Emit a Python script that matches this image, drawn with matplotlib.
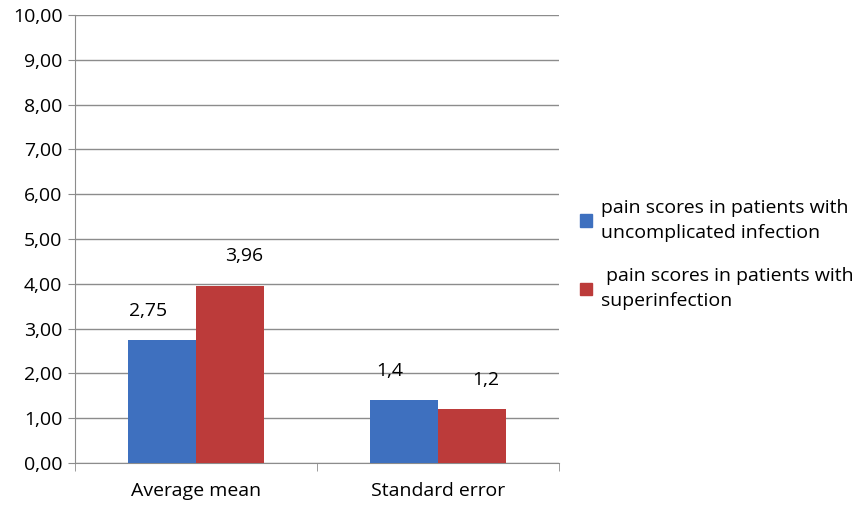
import matplotlib
matplotlib.use("Agg")
import matplotlib.pyplot as plt
from matplotlib.patches import Patch
import numpy as np

categories = ["Average mean", "Standard error"]
uncomplicated = [2.75, 1.4]
superinfection = [3.96, 1.2]
labels_unc = ["2,75", "1,4"]
labels_sup = ["3,96", "1,2"]
series_names = ["pain scores in patients with\nuncomplicated infection",
                " pain scores in patients with\nsuperinfection"]
yticks = np.arange(0, 11, 1)

plt.rcParams["font.family"] = "Open Sans"
fs = 14
fig = plt.figure(figsize=(8.67, 5.09), dpi=100)
ax = fig.add_axes([0.0865, 0.0904, 0.558, 0.880])
x = np.arange(len(categories))
w = 0.28
blue, red = "#3E70BF", "#BC3B3A"
b1 = ax.bar(x - w/2, uncomplicated, w, color=blue, zorder=3)
b2 = ax.bar(x + w/2, superinfection, w, color=red, zorder=3)
for rect, t in zip(b1, labels_unc):
    ax.text(rect.get_x() + rect.get_width()/2 - 0.06, rect.get_height() + 0.45, t,
            ha="center", va="bottom", fontsize=fs)
for rect, t in zip(b2, labels_sup):
    ax.text(rect.get_x() + rect.get_width()/2 + 0.06, rect.get_height() + 0.45, t,
            ha="center", va="bottom", fontsize=fs)

ax.set_xlim(-0.5, 1.5)
ax.set_ylim(0, 10)
ax.set_yticks(yticks)
ax.set_yticklabels([f"{v:.2f}".replace(".", ",") for v in yticks], fontsize=fs)
ax.yaxis.grid(True, color="#8C8C8C", linewidth=1, zorder=0)
ax.set_xticks(x)
ax.set_xticklabels(categories, fontsize=fs)
ax.tick_params(axis="x", length=0, pad=14)
ax.set_xticks([-0.5, 0.5, 1.5], minor=True)
ax.tick_params(axis="x", which="minor", length=6, color="#8C8C8C")
ax.tick_params(axis="y", length=5, color="#8C8C8C", pad=4)
for s in ["top", "right"]:
    ax.spines[s].set_visible(False)
for s in ["left", "bottom"]:
    ax.spines[s].set_color("#8C8C8C")

handles = [Patch(color=blue), Patch(color=red)]
leg = fig.legend(handles, series_names, loc="center left", bbox_to_anchor=(0.66, 0.5),
                 frameon=False, fontsize=fs, handlelength=0.6, handleheight=0.6,
                 labelspacing=1.3, handletextpad=0.5, borderaxespad=0)
for t in leg.get_texts():
    t.set_linespacing(1.5)
fig.savefig("out.png", dpi=100)
